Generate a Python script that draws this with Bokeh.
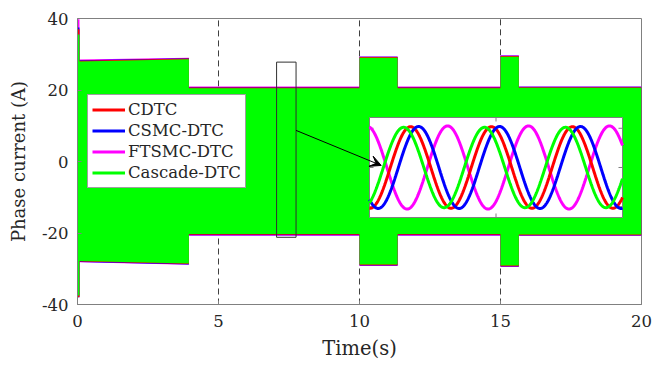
import numpy as np
from bokeh.plotting import figure
from bokeh.models import Range1d, FixedTicker, Legend, LegendItem, Arrow, VeeHead
from bokeh.embed import file_html
from bokeh.resources import INLINE

FONT = "DejaVu Serif"

# Peak envelope of the phase current (A) for each controller over the run
t_env = [0.0, 0.07, 0.07, 3.95, 3.95, 10.0, 10.0, 11.35, 11.35, 15.0, 15.0, 15.65, 15.65, 20.0]
cdtc_up = [37.0, 37.0, 28.2, 28.8, 20.7, 20.7, 29.2, 29.2, 20.7, 20.7, 29.5, 29.5, 20.8, 20.8]
cdtc_lo = [-38.0, -38.0, -28.0, -28.7, -20.5, -20.5, -29.0, -29.0, -20.5, -20.5, -29.3, -29.3, -20.6, -20.6]
csmc_up = [37.5, 37.5, 28.3, 28.9, 20.8, 20.8, 29.3, 29.3, 20.8, 20.8, 29.6, 29.6, 20.9, 20.9]
csmc_lo = [-38.0, -38.0, -28.1, -28.8, -20.6, -20.6, -29.1, -29.1, -20.6, -20.6, -29.4, -29.4, -20.7, -20.7]
ftsmc_up = [39.8, 39.8, 28.5, 29.0, 21.0, 21.0, 29.4, 29.4, 21.0, 21.0, 29.7, 29.7, 21.0, 21.0]
ftsmc_lo = [-37.5, -37.5, -28.2, -28.9, -20.8, -20.8, -29.2, -29.2, -20.8, -20.8, -29.5, -29.5, -20.8, -20.8]
cascade_up = [35.5, 35.5, 28.0, 28.6, 20.5, 20.5, 29.0, 29.0, 20.5, 20.5, 29.3, 29.3, 20.6, 20.6]
cascade_lo = [-37.5, -37.5, -27.8, -28.5, -20.3, -20.3, -28.8, -28.8, -20.3, -20.3, -29.1, -29.1, -20.4, -20.4]

names = ["CDTC", "CSMC-DTC", "FTSMC-DTC", "Cascade-DTC"]
colors = ["#FF0000", "#0000FF", "#FF00FF", "#00FF00"]
env_up = [cdtc_up, csmc_up, ftsmc_up, cascade_up]
env_lo = [cdtc_lo, csmc_lo, ftsmc_lo, cascade_lo]

# Zoomed window: steady-state sinusoidal phase currents
zoom_t = [7.06, 7.75]
zoom_i = [-21.2, 27.8]
freq_hz = 4.53
amp = [20.8, 20.9, 21.2, 20.5]
t_peak = [7.172, 7.194, 7.273, 7.153]

x_ticks = [0, 5, 10, 15, 20]
y_ticks = [-40, -20, 0, 20, 40]
y_tick_labels = ["-40", "-20", "0", "20", "40"]

p = figure(width=665, height=366, output_backend="svg", toolbar_location=None,
           x_range=Range1d(0, 20), y_range=Range1d(-40, 40),
           min_border_left=77, min_border_right=24, min_border_top=18, min_border_bottom=62)
p.background_fill_color = "white"
p.border_fill_color = "white"
p.outline_line_color = "#808080"
p.outline_line_width = 1

for ax, ticks in ((p.xaxis, x_ticks), (p.yaxis, y_ticks)):
    ax.ticker = FixedTicker(ticks=ticks)
    ax.axis_line_color = "#808080"
    ax.major_tick_line_color = "#808080"
    ax.major_tick_in = 4
    ax.major_tick_out = 0
    ax.minor_tick_line_color = None
    ax.major_label_text_font = FONT
    ax.major_label_text_font_size = "16.5px"
    ax.major_label_text_color = "#262626"
    ax.axis_label_text_font = FONT
    ax.axis_label_text_font_style = "normal"
    ax.axis_label_text_color = "#262626"
p.xaxis.axis_label_text_font_size = "19.5px"
p.yaxis.axis_label_text_font_size = "18px"
p.yaxis.major_label_overrides = {v: s for v, s in zip(y_ticks, y_tick_labels)}
p.xaxis.major_label_standoff = 10
p.yaxis.major_label_standoff = 9
p.xaxis.axis_label_standoff = 7
p.yaxis.axis_label_standoff = 10
p.xaxis.axis_label = "Time(s)"
p.yaxis.axis_label = "Phase current (A)"

p.xgrid.visible = False
p.ygrid.visible = False

# Dashed time markers, shown only where the current band leaves the axes blank
t_arr = np.array(t_env)
outer_up = np.max(np.array(env_up), axis=0)
outer_lo = np.min(np.array(env_lo), axis=0)
grid_t = x_ticks[1:-1]
band_top, band_bot = [], []
for g in grid_t:
    near = np.abs(t_arr - g) <= 0.06
    band_top.append(max([np.interp(g, t_arr, outer_up)] + list(outer_up[near])))
    band_bot.append(min([np.interp(g, t_arr, outer_lo)] + list(outer_lo[near])))
y_top, y_bot = y_ticks[-1], y_ticks[0]
p.segment(x0=grid_t + grid_t, x1=grid_t + grid_t,
          y0=band_top + [y_bot] * len(grid_t), y1=[y_top] * len(grid_t) + band_bot,
          line_color="#404040", line_dash="6 4", line_width=1)

# Full-run currents: the fast oscillation fills the band between the peaks
for order in (2, 1, 0, 3):
    p.varea(x=t_env, y1=env_lo[order], y2=env_up[order], fill_color=colors[order], fill_alpha=1.0)

# Marker of the zoomed window
p.quad(left=zoom_t[0], right=zoom_t[1], bottom=zoom_i[0], top=zoom_i[1],
       fill_color=None, line_color="#303030", line_width=1)

# Inset showing the zoomed window
inset_y = [-25.5, 25.5]
sub = p.subplot(x_source=Range1d(zoom_t[0], zoom_t[1]), y_source=Range1d(inset_y[0], inset_y[1]),
                x_target=Range1d(10.355, 19.326), y_target=Range1d(-15.66, 12.31))
sub.quad(left=zoom_t[0], right=zoom_t[1], bottom=inset_y[0], top=inset_y[1],
         fill_color="white", line_color="#808080", line_width=1)

px_t = (zoom_t[1] - zoom_t[0]) / 253.0
px_i = (inset_y[1] - inset_y[0]) / 100.0
tick_y = [-20, 0, 20]
sub.segment(x0=[zoom_t[1]] * 3, x1=[zoom_t[1] - 4 * px_t] * 3, y0=tick_y, y1=tick_y,
            line_color="#808080", line_width=1)
sub.segment(x0=[zoom_t[0]] * 3, x1=[zoom_t[0] + 4 * px_t] * 3, y0=tick_y, y1=tick_y,
            line_color="#808080", line_width=1)
mid_t = 0.5 * (zoom_t[0] + zoom_t[1])
sub.segment(x0=[mid_t, mid_t], x1=[mid_t, mid_t], y0=[inset_y[0], inset_y[1]],
            y1=[inset_y[0] + 4 * px_i, inset_y[1] - 4 * px_i], line_color="#808080", line_width=1)

t = np.linspace(zoom_t[0], zoom_t[1], 500)
renderers = {}
for k in (2, 0, 1, 3):
    cur = amp[k] * np.cos(2 * np.pi * freq_hz * (t - t_peak[k]))
    renderers[k] = sub.line(x=t, y=cur, line_color=colors[k], line_width=3)

p.add_layout(Arrow(x_start=zoom_t[1], y_start=8.7, x_end=10.77, y_end=-1.1,
                   line_color="black", line_width=1,
                   end=VeeHead(size=11, fill_color="black", line_color="black")))

legend = Legend(items=[LegendItem(label=names[k], renderers=[renderers[k]]) for k in range(4)],
                location=(10, 116))
legend.label_text_font = FONT
legend.label_text_font_size = "16.5px"
legend.label_text_color = "#262626"
legend.glyph_width = 33
legend.glyph_height = 21
legend.label_height = 21
legend.label_standoff = 3
legend.spacing = 0
legend.padding = 4
legend.margin = 0
legend.border_line_color = "#404040"
legend.border_line_width = 1
legend.background_fill_color = "white"
legend.background_fill_alpha = 1.0
p.add_layout(legend)

open("out.html", "w").write(file_html(p, INLINE))
